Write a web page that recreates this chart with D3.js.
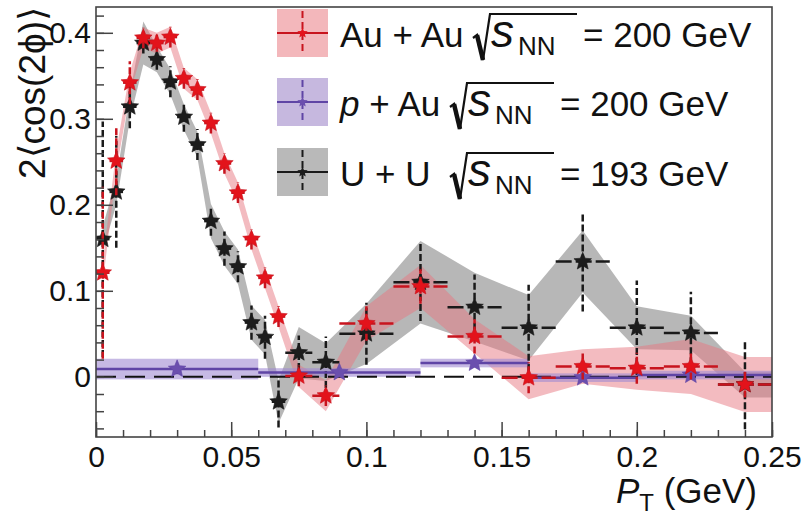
<!DOCTYPE html>
<html lang="en">
<head>
<meta charset="UTF-8">
<title>2&lt;cos(2phi)&gt; vs pT</title>
<script src="https://d3js.org/d3.v7.min.js"></script>
<style>
  body { margin: 0; background: #fff; }
  svg text { font-family: "Liberation Sans", Arial, Helvetica, sans-serif; fill: #111; }
</style>
</head>
<body>
<svg id="chart" width="808" height="519"></svg>
<script>
// pT bin centres and half widths (GeV), shared by Au+Au and U+U
const ptCenters = [0.0025, 0.0075, 0.0125, 0.0175, 0.0225, 0.0275, 0.0325, 0.0375, 0.0425, 0.0475,
                   0.0525, 0.0575, 0.0625, 0.0675, 0.075, 0.085, 0.10, 0.12, 0.14, 0.16, 0.18, 0.20, 0.22, 0.24];
const ptHalf = [0.0025, 0.0025, 0.0025, 0.0025, 0.0025, 0.0025, 0.0025, 0.0025, 0.0025, 0.0025,
                0.0025, 0.0025, 0.0025, 0.0025, 0.005, 0.005, 0.01, 0.01, 0.01, 0.01, 0.01, 0.01, 0.01, 0.01];

// Au+Au 200 GeV
const auauVal  = [0.121, 0.251, 0.342, 0.394, 0.388, 0.395, 0.347, 0.334, 0.295, 0.248,
                  0.214, 0.160, 0.115, 0.070, 0.001, -0.022, 0.062, 0.105, 0.047, -0.001, 0.012, 0.010, 0.012, -0.009];
const auauStat = [0.100, 0.040, 0.025, 0.012, 0.010, 0.012, 0.012, 0.012, 0.012, 0.012,
                  0.012, 0.012, 0.012, 0.012, 0.012, 0.012, 0.020, 0.020, 0.020, 0.018, 0.015, 0.018, 0.015, 0.015];
const auauSys  = [0.012, 0.012, 0.012, 0.012, 0.012, 0.012, 0.012, 0.012, 0.012, 0.012,
                  0.012, 0.012, 0.012, 0.012, 0.013, 0.018, 0.020, 0.025, 0.020, 0.025, 0.020, 0.025, 0.032, 0.032];

// U+U 193 GeV
const uuVal  = [0.160, 0.215, 0.314, 0.388, 0.369, 0.343, 0.302, 0.270, 0.181, 0.149,
                0.128, 0.063, 0.046, -0.029, 0.028, 0.017, 0.050, 0.110, 0.081, 0.057, 0.134, 0.057, 0.051, -0.009];
const uuStat = [0.137, 0.065, 0.025, 0.012, 0.012, 0.018, 0.017, 0.018, 0.017, 0.020,
                0.018, 0.020, 0.025, 0.030, 0.020, 0.030, 0.036, 0.045, 0.038, 0.050, 0.058, 0.055, 0.048, 0.052];
const uuSys  = [0.015, 0.015, 0.015, 0.025, 0.015, 0.015, 0.015, 0.015, 0.020, 0.020,
                0.020, 0.020, 0.020, 0.025, 0.030, 0.022, 0.035, 0.048, 0.040, 0.038, 0.036, 0.025, 0.020, 0.015];

// p+Au 200 GeV (wide bins)
const pauCenters = [0.03, 0.09, 0.14, 0.18, 0.22];
const pauLo      = [0.00, 0.06, 0.12, 0.16, 0.20];
const pauHi      = [0.06, 0.12, 0.16, 0.20, 0.25];
const pauVal     = [0.009, 0.005, 0.016, -0.001, 0.002];
const pauStat    = [0.006, 0.005, 0.005, 0.005, 0.005];
const pauSys     = [0.012, 0.005, 0.005, 0.005, 0.005];

const xTicks = [0, 0.05, 0.1, 0.15, 0.2, 0.25];
const yTicks = [0, 0.1, 0.2, 0.3, 0.4];

const svg = d3.select("#chart");
const margin = { top: 7, right: 36, bottom: 82, left: 96 };
const width = 808 - margin.left - margin.right;
const height = 519 - margin.top - margin.bottom;

const x = d3.scaleLinear().domain([0, 0.25]).range([margin.left, margin.left + width]);
const y = d3.scaleLinear().domain([-0.07, 0.43]).range([margin.top + height, margin.top]);

svg.append("defs").append("clipPath").attr("id", "clip")
  .append("rect").attr("x", margin.left).attr("y", margin.top).attr("width", width).attr("height", height);

const plot = svg.append("g").attr("clip-path", "url(#clip)");

// five point star like ROOT marker 29
const star = {
  draw(ctx, size) {
    const R = Math.sqrt(size), r = R * 0.45;
    for (let k = 0; k < 10; k++) {
      const a = -Math.PI / 2 + k * Math.PI / 5;
      const rad = k % 2 ? r : R;
      if (k === 0) ctx.moveTo(rad * Math.cos(a), rad * Math.sin(a));
      else ctx.lineTo(rad * Math.cos(a), rad * Math.sin(a));
    }
    ctx.closePath();
  }
};

const series = {
  uu:   { band: "rgba(135,135,135,0.6)", err: "#1a1a1a", mark: "#1c1c1c", swatch: "#b9b9b9" },
  auau: { band: "rgba(232,120,130,0.5)", err: "#c8141e", mark: "#e3131b", swatch: "#f3b7bb" },
  pau:  { band: "rgba(160,138,210,0.6)", err: "#5f45a5", mark: "#6b4fae", swatch: "#c6b8df" }
};

// systematic bands
function drawBand(vals, sys, fill) {
  const rows = ptCenters.map((p, i) => ({ p, lo: vals[i] - sys[i], hi: vals[i] + sys[i] }));
  const last = rows[rows.length - 1];
  rows.push({ p: x.domain()[1], lo: last.lo, hi: last.hi });
  plot.append("path").datum(rows)
    .attr("d", d3.area().x(d => x(d.p)).y0(d => y(d.lo)).y1(d => y(d.hi)))
    .attr("fill", fill);
}
drawBand(uuVal, uuSys, series.uu.band);
drawBand(auauVal, auauSys, series.auau.band);

plot.selectAll(".pauBox").data(pauCenters).join("rect")
  .attr("x", (d, i) => x(pauLo[i]))
  .attr("width", (d, i) => x(pauHi[i]) - x(pauLo[i]))
  .attr("y", (d, i) => y(pauVal[i] + pauSys[i]))
  .attr("height", (d, i) => y(pauVal[i] - pauSys[i]) - y(pauVal[i] + pauSys[i]))
  .attr("fill", series.pau.band);

// zero line
plot.append("line")
  .attr("x1", x(0)).attr("x2", x(0.25)).attr("y1", y(0)).attr("y2", y(0))
  .attr("stroke", "#111").attr("stroke-width", 2).attr("stroke-dasharray", "20,9");

function drawPoints(pts, lo, hi, vals, stat, s, hDash) {
  const g = plot.append("g");
  const idx = d3.range(pts.length);
  g.selectAll(".h").data(idx).join("line")
    .attr("x1", i => x(lo[i])).attr("x2", i => x(hi[i]))
    .attr("y1", i => y(vals[i])).attr("y2", i => y(vals[i]))
    .attr("stroke", s.err).attr("stroke-width", 2.5)
    .attr("stroke-dasharray", hDash);
  g.selectAll(".v").data(idx).join("line")
    .attr("x1", i => x(pts[i])).attr("x2", i => x(pts[i]))
    .attr("y1", i => y(vals[i] - stat[i])).attr("y2", i => y(vals[i] + stat[i]))
    .attr("stroke", s.err).attr("stroke-width", 2.5)
    .attr("stroke-dasharray", "7,3");
  g.selectAll(".m").data(idx).join("path")
    .attr("transform", i => `translate(${x(pts[i])},${y(vals[i])})`)
    .attr("d", d3.symbol(star, 85))
    .attr("fill", s.mark).attr("stroke", s.err).attr("stroke-width", 0.6);
}
drawPoints(ptCenters, ptCenters.map((p, i) => p - ptHalf[i]), ptCenters.map((p, i) => p + ptHalf[i]),
  uuVal, uuStat, series.uu, "16,4");
drawPoints(pauCenters, pauLo, pauHi, pauVal, pauStat, series.pau, null);
drawPoints(ptCenters, ptCenters.map((p, i) => p - ptHalf[i]), ptCenters.map((p, i) => p + ptHalf[i]),
  auauVal, auauStat, series.auau, "16,4");

// axes, ticks inside like ROOT
const fmt = d => d === 0 ? "0" : String(+d.toFixed(2));
svg.append("g").attr("transform", `translate(0,${margin.top + height})`)
  .call(d3.axisBottom(x).tickValues(xTicks).tickSize(-15).tickPadding(9).tickFormat(fmt));
svg.append("g").attr("transform", `translate(0,${margin.top + height})`)
  .call(d3.axisBottom(x).tickValues(d3.range(0, 0.2501, 0.01)).tickSize(-7).tickFormat(""));
svg.append("g").attr("transform", `translate(${margin.left},0)`)
  .call(d3.axisLeft(y).tickValues(yTicks).tickSize(-17).tickPadding(5).tickFormat(fmt));
svg.append("g").attr("transform", `translate(${margin.left},0)`)
  .call(d3.axisLeft(y).tickValues(d3.range(-0.06, 0.4201, 0.02)).tickSize(-8).tickFormat(""));

svg.selectAll(".domain").remove();
svg.selectAll(".tick line").attr("stroke", "#444").attr("stroke-width", 1.5);
svg.selectAll(".tick text").attr("font-size", 30).attr("fill", "#111")
  .attr("font-family", "'Liberation Sans', Arial, sans-serif");

svg.append("rect")
  .attr("x", margin.left).attr("y", margin.top).attr("width", width).attr("height", height)
  .attr("fill", "none").attr("stroke", "#444").attr("stroke-width", 1.6);

// axis titles
const xt = svg.append("text").attr("x", 757).attr("y", 503).attr("text-anchor", "end").attr("font-size", 35);
xt.append("tspan").attr("font-style", "italic").text("P");
xt.append("tspan").attr("font-size", 24).attr("dy", 8).text("T");
xt.append("tspan").attr("dy", -8).text(" (GeV)");

svg.append("text")
  .attr("transform", "translate(45,93) rotate(-90)")
  .attr("text-anchor", "middle").attr("font-size", 37)
  .text("2\u27E8cos(2\u03D5)\u27E9");

// legend
const legendRows = [
  { key: "auau", label: [["Au + Au", null]], sqrtX: 473, energy: "= 200 GeV" },
  { key: "pau", label: [["p", "italic"], [" + Au", null]], sqrtX: 450, energy: "= 200 GeV" },
  { key: "uu", label: [["U + U", null]], sqrtX: 450, energy: "= 193 GeV" }
];
const legendY = [33, 102, 172];

legendRows.forEach((row, i) => {
  const cy = legendY[i];
  const s = series[row.key];
  const g = svg.append("g");
  g.append("rect").attr("x", 277).attr("y", cy - 24).attr("width", 51).attr("height", 48).attr("fill", s.swatch);
  g.append("line").attr("x1", 277).attr("x2", 328).attr("y1", cy).attr("y2", cy)
    .attr("stroke", s.err).attr("stroke-width", 2.2);
  g.append("line").attr("x1", 302.5).attr("x2", 302.5).attr("y1", cy - 22).attr("y2", cy + 22)
    .attr("stroke", s.err).attr("stroke-width", 2).attr("stroke-dasharray", "7,4");
  g.append("path").attr("transform", `translate(302.5,${cy})`).attr("d", d3.symbol(star, 30)).attr("fill", s.mark);

  const t = g.append("text").attr("x", 340).attr("y", cy + 14).attr("font-size", 35);
  row.label.forEach(([txt, st]) => t.append("tspan").attr("font-style", st).text(txt));

  // ROOT style #sqrt{s_{NN}}
  const sx = row.sqrtX;
  g.append("path")
    .attr("d", `M${sx},${cy + 5} L${sx + 4},${cy + 2} L${sx + 10},${cy + 27} L${sx + 17},${cy - 19} L${sx + 104},${cy - 19}`)
    .attr("fill", "none").attr("stroke", "#111").attr("stroke-width", 2.2);
  g.append("path")
    .attr("d", `M${sx + 4},${cy + 2} L${sx + 10},${cy + 27}`)
    .attr("stroke", "#111").attr("stroke-width", 4.5);
  g.append("text").attr("x", sx + 18).attr("y", cy + 14).attr("font-size", 46)
    .attr("font-style", "italic").text("s");
  g.append("text").attr("x", sx + 45).attr("y", cy + 22).attr("font-size", 26).text("NN");
  g.append("text").attr("x", sx + 110).attr("y", cy + 14).attr("font-size", 35).text(row.energy);
});
</script>
</body>
</html>
